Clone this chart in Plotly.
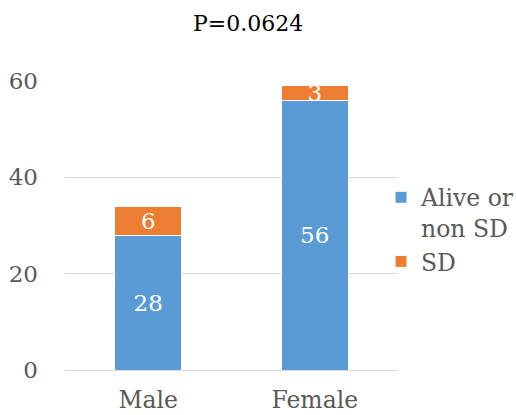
import plotly.graph_objects as go

categories = ["Male", "Female"]
alive = [28, 56]
sd = [6, 3]
series_names = ["Alive or<br>non SD", "SD"]
y_ticks = [0, 20, 40, 60]
title_text = "P=0.0624"

FONT = "DejaVu Serif"

fig = go.Figure()
fig.add_trace(go.Bar(
    x=categories, y=alive, name=series_names[0],
    marker=dict(color="#5B9BD5", line=dict(color="white", width=1)),
    text=[str(v) for v in alive], textposition="inside", insidetextanchor="middle",
    textangle=0, constraintext="none",
    textfont=dict(color="white", size=23, family=FONT),
))
fig.add_trace(go.Bar(
    x=categories, y=sd, name=series_names[1],
    marker=dict(color="#ED7D31", line=dict(color="white", width=1)),
    text=[str(v) for v in sd], textposition="inside", insidetextanchor="middle",
    textangle=0, constraintext="none",
    textfont=dict(color="white", size=23, family=FONT),
))

fig.update_layout(
    barmode="stack",
    bargap=0.6,
    width=516, height=415,
    margin=dict(l=65, r=118, t=81, b=45, autoexpand=False),
    paper_bgcolor="white", plot_bgcolor="white",
    font=dict(family=FONT, color="#595959", size=23),
    uniformtext=dict(minsize=23, mode="show"),
    title=dict(text=title_text, x=0.55, xref="paper", xanchor="center",
               y=0.943, yref="container", yanchor="middle",
               font=dict(family=FONT, size=22, color="black")),
    legend=dict(x=0.949, xanchor="left", y=0.673, yanchor="top",
                font=dict(family=FONT, size=23.5, color="#595959"),
                itemwidth=30, tracegroupgap=0, valign="top", traceorder="normal",
                bgcolor="rgba(0,0,0,0)"),
    showlegend=True,
)
fig.update_xaxes(showgrid=False, showline=True, linecolor="#D9D9D9", linewidth=1,
                 ticks="", ticklabelstandoff=9,
                 tickfont=dict(size=23.5, color="#595959"))
fig.update_yaxes(range=[0, 60], tickvals=y_ticks, showgrid=True, gridcolor="#D9D9D9",
                 gridwidth=1, zeroline=False, showline=False, ticks="",
                 ticklabelstandoff=26, tickfont=dict(size=23, color="#595959"))

fig.write_html(
    "out.html",
    config={"displayModeBar": False},
    post_script="document.body.style.margin='0';document.body.style.overflow='hidden';",
)
